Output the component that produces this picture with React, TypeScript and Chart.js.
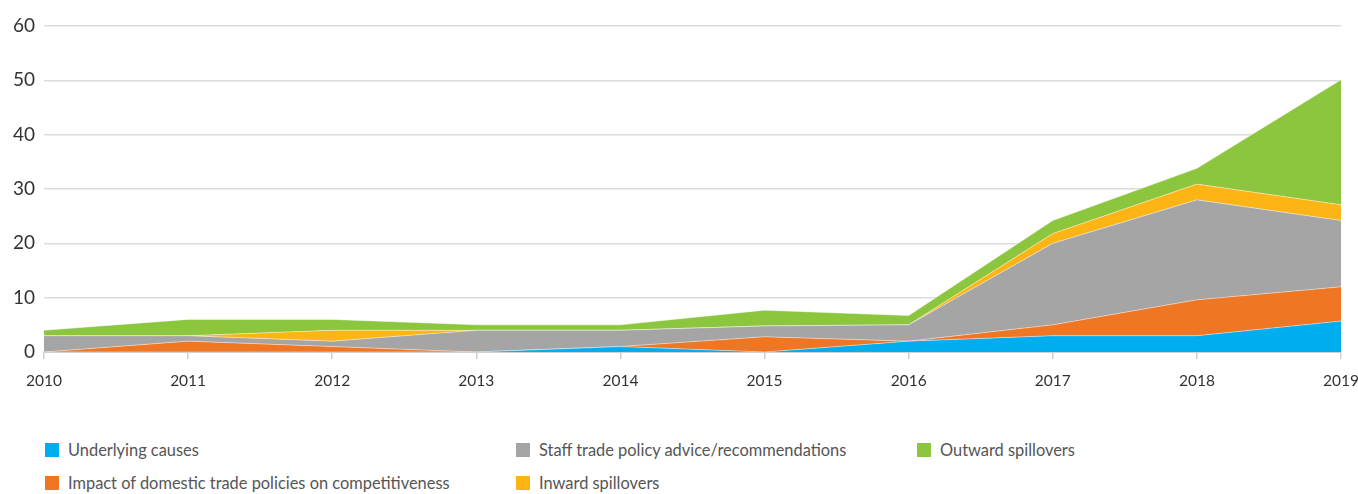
import React, { useEffect, useRef } from "react";
import { Chart, registerables } from "chart.js";

Chart.register(...registerables);

const years = ["2010", "2011", "2012", "2013", "2014", "2015", "2016", "2017", "2018", "2019"];
const underlyingCauses = [0, 0, 0, 0, 1, 0, 2, 3, 3, 5.7];
const domesticImpact = [0, 2, 1, 0, 0, 2.8, 0, 2, 6.6, 6.3];
const staffAdvice = [3, 1, 1, 4, 3, 2, 3, 15, 18.4, 12.2];
const inwardSpillovers = [0, 0, 2, 0, 0, 0, 0, 1.8, 2.9, 2.9];
const outwardSpillovers = [1, 3, 2, 1, 1, 2.9, 1.7, 2.4, 2.9, 23];
const yTicks = [0, 10, 20, 30, 40, 50, 60];

const series = [
  { label: "Underlying causes", data: underlyingCauses, color: "#00adef" },
  { label: "Impact of domestic trade policies on competitiveness", data: domesticImpact, color: "#ef7622" },
  { label: "Staff trade policy advice/recommendations", data: staffAdvice, color: "#a5a5a5" },
  { label: "Inward spillovers", data: inwardSpillovers, color: "#fdb515" },
  { label: "Outward spillovers", data: outwardSpillovers, color: "#8cc63f" },
];

const legendItems = [
  { idx: 0, left: 45, top: 443 },
  { idx: 2, left: 516, top: 443 },
  { idx: 4, left: 917, top: 443 },
  { idx: 1, left: 45, top: 476 },
  { idx: 3, left: 516, top: 476 },
];

export default function App() {
  const ref = useRef<HTMLCanvasElement | null>(null);

  useEffect(() => {
    if (!ref.current) return;
    const chart = new Chart(ref.current, {
      type: "line",
      data: {
        labels: years,
        datasets: series.map((s, i) => ({
          label: s.label,
          data: s.data,
          backgroundColor: s.color,
          borderColor: "rgba(255,255,255,0.45)",
          borderWidth: 1,
          pointRadius: 0,
          fill: i === 0 ? "origin" : "-1",
          tension: 0,
        })),
      },
      options: {
        animation: false,
        responsive: false,
        maintainAspectRatio: false,
        layout: { padding: { top: 26, left: 0, right: 0, bottom: 0 } },
        plugins: { legend: { display: false }, tooltip: { enabled: false } },
        scales: {
          x: {
            offset: false,
            grid: { drawOnChartArea: false, drawTicks: true, tickLength: 7, color: "#d0d0d0", lineWidth: 1.5 },
            border: { display: true, color: "#d0d0d0", width: 2 },
            ticks: { color: "#333", font: { family: "Lato", size: 15.5 }, padding: 13, maxRotation: 0, autoSkip: false },
            afterFit: (scale: any) => { scale.height = 48; },
          },
          y: {
            stacked: true,
            min: 0,
            max: 60,
            afterBuildTicks: (scale: any) => { scale.ticks = yTicks.map((v) => ({ value: v })); },
            grid: { color: "#dcdcdc", lineWidth: 1.5, drawTicks: false },
            border: { display: false },
            ticks: { color: "#333", font: { family: "Lato", size: 19 }, padding: 9 },
            afterFit: (scale: any) => { scale.width = 44; },
          },
        },
      },
    });
    return () => chart.destroy();
  }, []);

  const canvasWidth = 1372;

  return (
    <div style={{ position: "fixed", left: 0, top: 0, width: 1358, height: 494, background: "#fff", fontFamily: "Lato", overflow: "hidden" }}>
      <canvas ref={ref} width={canvasWidth} height={400} style={{ position: "absolute", left: 0, top: 0, width: canvasWidth, height: 400 }} />
      {legendItems.map((it) => (
        <div key={it.idx} style={{ position: "absolute", left: it.left, top: it.top, display: "flex", alignItems: "center", height: 14 }}>
          <div style={{ width: 14, height: 14, background: series[it.idx].color, marginRight: 9 }} />
          <span style={{ fontSize: 16.4, color: "#555", whiteSpace: "nowrap", lineHeight: "14px" }}>{series[it.idx].label}</span>
        </div>
      ))}
    </div>
  );
}
